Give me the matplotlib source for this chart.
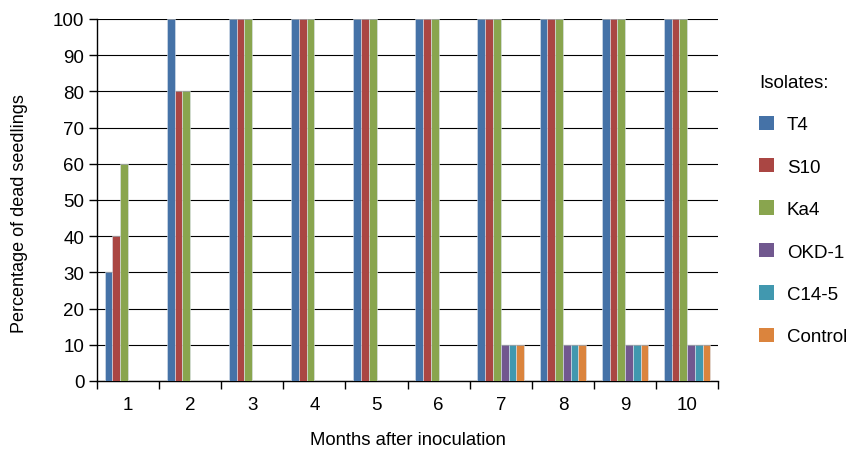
import numpy as np
import matplotlib.pyplot as plt
from matplotlib.patches import Patch

plt.rcParams['font.family'] = ['Liberation Sans', 'DejaVu Sans']

months = ['1', '2', '3', '4', '5', '6', '7', '8', '9', '10']
isolates = ['T4', 'S10', 'Ka4', 'OKD-1', 'C14-5', 'Control']
T4 = [30, 100, 100, 100, 100, 100, 100, 100, 100, 100]
S10 = [40, 80, 100, 100, 100, 100, 100, 100, 100, 100]
Ka4 = [60, 80, 100, 100, 100, 100, 100, 100, 100, 100]
OKD1 = [0, 0, 0, 0, 0, 0, 10, 10, 10, 10]
C14_5 = [0, 0, 0, 0, 0, 0, 10, 10, 10, 10]
Control = [0, 0, 0, 0, 0, 0, 10, 10, 10, 10]
colors = ['#4572A7', '#AA4643', '#89A54E', '#71588F', '#4198AF', '#DB843D']

series = [T4, S10, Ka4, OKD1, C14_5, Control]

fig = plt.figure(figsize=(8.5, 4.52), dpi=100)
ax = fig.add_axes([0.114, 0.155, 0.731, 0.801])

x = np.arange(len(months))
w = 0.125
for i, (vals, c) in enumerate(zip(series, colors)):
    ax.bar(x + (i - 2.5) * w, vals, w, color=c, edgecolor='#dde4ee', linewidth=0.4, zorder=3)

ax.set_ylim(0, 100)
ax.set_xlim(-0.5, len(months) - 0.5)
ax.set_yticks(range(0, 101, 10))
ax.yaxis.grid(True, color='black', linewidth=0.8, zorder=0)
ax.set_xticks(x)
ax.set_xticklabels(months)
ax.set_xticks(np.arange(-0.5, len(months)), minor=True)
ax.tick_params(axis='x', which='major', length=0, pad=11, labelsize=13.5)
ax.tick_params(axis='x', which='minor', length=6, width=1, color='black')
ax.tick_params(axis='y', length=6, width=1, labelsize=13.5, pad=3)
for s in ['top', 'right']:
    ax.spines[s].set_visible(False)
for s in ['left', 'bottom']:
    ax.spines[s].set_linewidth(1)
ax.set_xlabel('Months after inoculation', fontsize=13.3, labelpad=13)
ax.set_ylabel('Percentage of dead seedlings', fontsize=13)
ax.yaxis.set_label_coords(-0.111, 0.465)

handles = [Patch(facecolor=c, edgecolor='none') for c in colors]
leg = fig.legend(handles, isolates, title='Isolates:', loc='upper left',
                 bbox_to_anchor=(0.884, 0.851), frameon=False, fontsize=13.5,
                 title_fontsize=13.5, handlelength=0.8, handleheight=0.8,
                 labelspacing=1.32, handletextpad=0.68, borderaxespad=0)
leg._legend_box.align = 'left'

fig.savefig('out.png', dpi=100)
